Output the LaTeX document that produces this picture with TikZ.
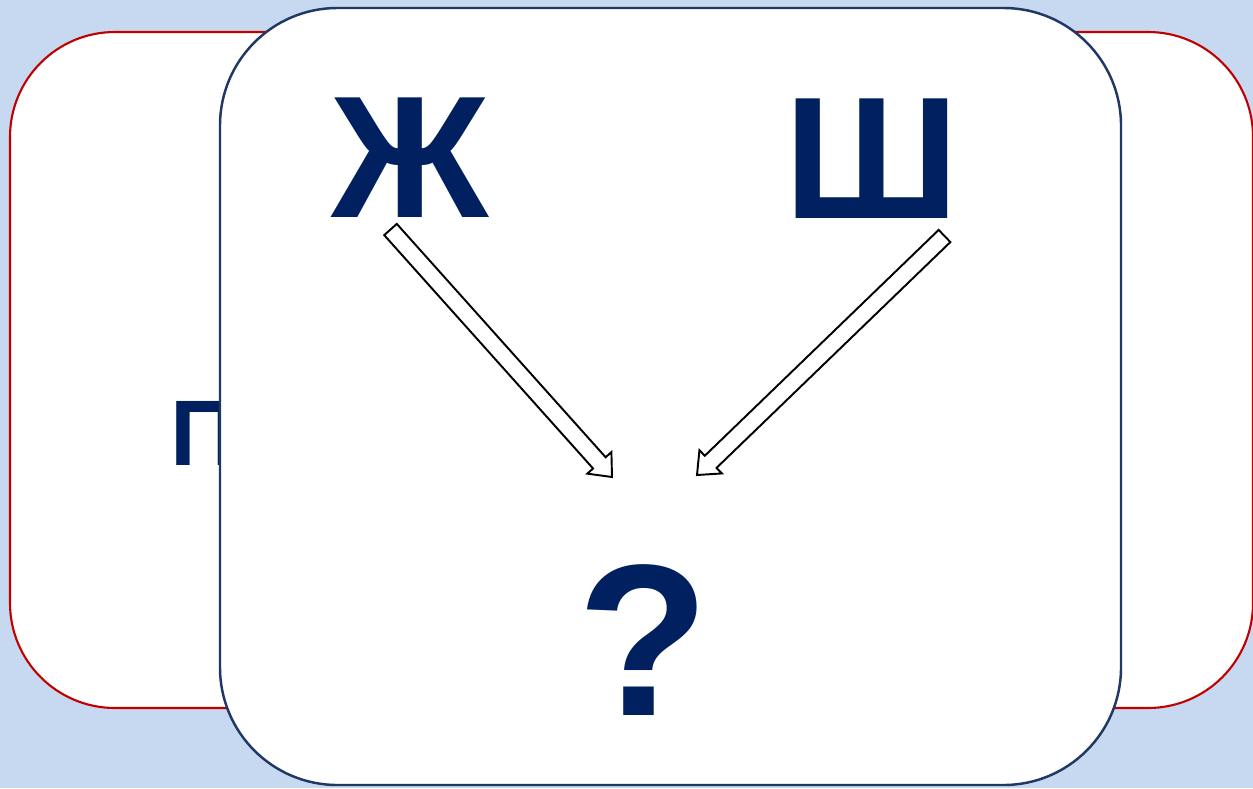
\documentclass[tikz,border=0pt]{standalone}
\usepackage{fontspec}
\setmainfont{Liberation Sans}
\usetikzlibrary{calc}
\definecolor{bgblue}{HTML}{C6D9F0}
\definecolor{cardred}{HTML}{C00000}
\definecolor{cardnavy}{HTML}{1F3864}
\definecolor{letterblue}{HTML}{002060}
\tikzset{
  letter/.style={text=letterblue, inner sep=0pt, anchor=base,
    font=\bfseries\fontsize{99}{99}\selectfont},
  hollow/.style={draw=black, fill=white, line width=1.1pt, line join=miter}
}
% 空心箭头: #1 尾, #2 尖
\newcommand{\hollowarrow}[2]{%
  \path ($(#2)!10.8pt!(#1)$) coordinate (hb);
  \draw[hollow] ($(#1)!4.8pt!90:(#2)$) -- ($(hb)!4.8pt!90:(#2)$)
    -- ($(hb)!9.2pt!90:(#2)$) -- (#2) -- ($(hb)!9.2pt!-90:(#2)$)
    -- ($(hb)!4.8pt!-90:(#2)$) -- ($(#1)!4.8pt!-90:(#2)$) -- cycle;
}
\begin{document}
\begin{tikzpicture}[x=0.02cm, y=-0.02cm]
        % 背景
        \useasboundingbox (0,0) rectangle (1253,788);
        \fill[bgblue] (0,0) rectangle (1253,788);
        % 后面的卡片
        \draw[cardred, fill=white, line width=1.2pt, rounded corners=2.1cm]
          (10,32) rectangle (1253,708);
        \node[letter, anchor=base west, font=\bfseries\fontsize{53}{53}\selectfont]
          (pe) at (170,465) {П};
        % 前面的卡片
        \draw[cardnavy, fill=white, line width=1.4pt, rounded corners=2.35cm]
          (220,8) rectangle (1121,785);
        % 字母
        \node[letter] (zh) at (410.5,217) {Ж};
        \node[letter] (sh) at (871.5,218) {Ш};
        \node[letter, font=\bfseries\fontsize{123}{123}\selectfont] (q) at (643,715) {?};
        % 箭头
        \coordinate (zhtail) at (390.5,229.5);
        \coordinate (zhtip) at (612,477);
        \coordinate (shtail) at (944.5,236);
        \coordinate (shtip) at (697,475);
        \hollowarrow{zhtail}{zhtip}
        \hollowarrow{shtail}{shtip}
\end{tikzpicture}
\end{document}
